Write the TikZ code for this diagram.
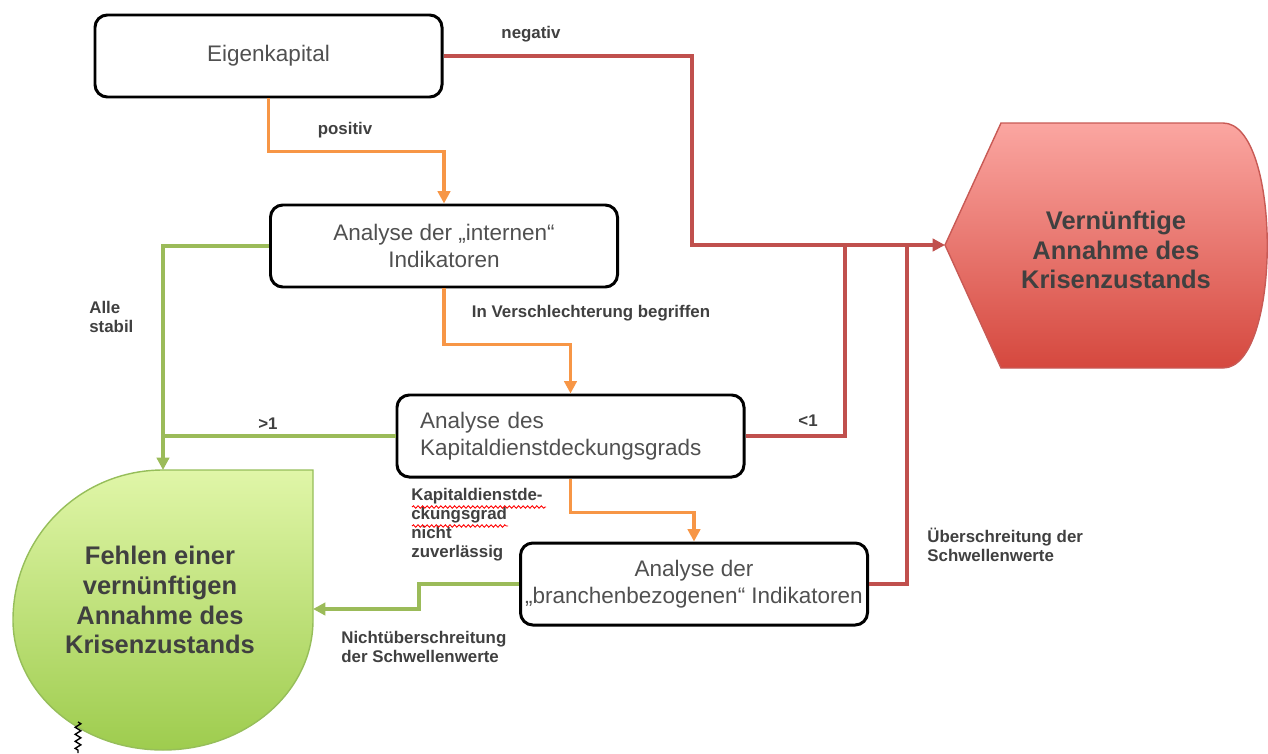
\documentclass[tikz,border=0pt]{standalone}
\usepackage{fontspec}
\setmainfont{Liberation Sans}
\usetikzlibrary{arrows.meta,calc,decorations.pathmorphing}

\definecolor{boxtext}{RGB}{80,80,80}
\definecolor{labeltext}{RGB}{64,64,64}
\definecolor{orangeline}{RGB}{247,150,70}
\definecolor{greenline}{RGB}{155,187,89}
\definecolor{redline}{RGB}{192,80,77}
\definecolor{greentop}{RGB}{224,246,168}
\definecolor{greenbot}{RGB}{158,204,78}
\definecolor{greenrim}{RGB}{150,190,90}
\definecolor{redtop}{RGB}{251,166,161}
\definecolor{redbot}{RGB}{213,72,62}
\definecolor{redrim}{RGB}{200,90,85}

\begin{document}
\begin{tikzpicture}
[
	              x = 0.2mm,
	              y = -0.2mm,
	             >= {Triangle[length=7pt,width=7pt]},
	   frame/.style = { draw=black, line width=1.7pt, rounded corners=7pt,
	                    minimum width=6.94cm, minimum height=1.64cm,
	                    font=\fontsize{12.8}{15}\selectfont, text=boxtext, align=center },
	  remark/.style = { inner sep=0pt, text=labeltext,
	                    font=\fontsize{9.6}{10.8}\selectfont\bfseries },
	     big/.style = { align=center, text=labeltext,
	                    font=\fontsize{14.5}{17}\selectfont\bfseries },
	      up/.style = { line width=2pt, draw=orangeline },
	      ok/.style = { line width=2pt, draw=greenline },
	     bad/.style = { line width=2pt, draw=redline },
	squiggle/.style = { draw=red, line width=0.5pt, decorate,
	                    decoration={snake, segment length=2.6pt, amplitude=0.7pt} }
]
	\useasboundingbox (0,0) rectangle (1268,753);

	% result shapes
	\path [draw=redrim, line width=0.8pt, top color=redtop, bottom color=redbot]
		(945,245) -- (1001,123) -- (1223,123)
		.. controls (1282,123) and (1282,368) .. (1223,368)
		-- (1001,368) -- cycle;
	\coordinate (r-tip) at (945,245);
	\node (r-txt) at (1116,250) [big] {Vernünftige\\Annahme des\\Krisenzustands};

	\path [draw=greenrim, line width=0.8pt, top color=greentop, bottom color=greenbot]
		(163,470) -- (313,470) -- (313,620)
		.. controls (313,692) and (246,750) .. (163,750)
		.. controls (80,750) and (13,692) .. (13,620)
		.. controls (13,537) and (80,470) .. (163,470) -- cycle;
	\coordinate (g-top) at (163,470);
	\coordinate (g-right) at (313,609);
	\node (g-txt) at (160,600) [big] {Fehlen einer\\vernünftigen\\Annahme des\\Krisenzustands};
	\draw [line width=0.8pt, decorate, decoration={zigzag, segment length=4pt, amplitude=1.6pt}]
		(78,722) -- (78,753);

	% analysis steps
	\node (10) at (268.5,56)  [frame] {Eigenkapital};
	\node (20) at (444,246)   [frame] {Analyse der „internen“\\Indikatoren};
	\node (30) at (570.5,436) [frame, text width=6.02cm, inner xsep=0.46cm, align=left]
		{Analyse des\\Kapitaldienstdeckungsgrads};
	\node (40) at (694,584)   [frame, inner xsep=0pt] {Analyse der\\„branchenbezogenen“ Indikatoren};

	% connectors
	\draw [up, ->] (10.south) -- ++(0,53) -| (20.north);
	\draw [up, ->] (20.south) -- ++(0,56) -| (30.north);
	\draw [up, ->] (30.south) -- ++(0,34) -| (40.north);

	\draw [ok, ->] (20.west) -| (g-top);
	\draw [ok] (30.west) -- (30.west -| g-top);
	\draw [ok, ->] (40.west) -- ++(-100,0) |- (g-right);

	\draw [bad, ->] (10.east) -| ($(r-tip)+(-253,0)$) -- (r-tip);
	\draw [bad] (30.east) -| ($(r-tip)+(-100,0)$);
	\draw [bad] (40.east) -| ($(r-tip)+(-38,0)$);

	% labels
	\node (l1) at (531,34)  [remark] {negativ};
	\node (l2) at (345,130) [remark] {positiv};
	\node (l3) at (591,313) [remark] {In Verschlechterung begriffen};
	\node (l4) at (89,317)  [remark, anchor=west, align=left] {Alle\\stabil};
	\node (l5) at (268,424) [remark] {>1};
	\node (l6) at (808,421) [remark] {<1};
	\node (l7) at (411,525) [remark, anchor=west, align=left]
		{Kapitaldienstde-\\ckungsgrad\\nicht\\zuverlässig};
	\node (l8) at (927,545) [remark, anchor=west, align=left] {Überschreitung der\\Schwellenwerte};
	\node (l9) at (341,647) [remark, anchor=west, align=left] {Nichtüberschreitung\\der Schwellenwerte};

	\draw [squiggle] (412,507) -- (546,507);
	\draw [squiggle] (412,526) -- (508,526);

\end{tikzpicture}
\end{document}
